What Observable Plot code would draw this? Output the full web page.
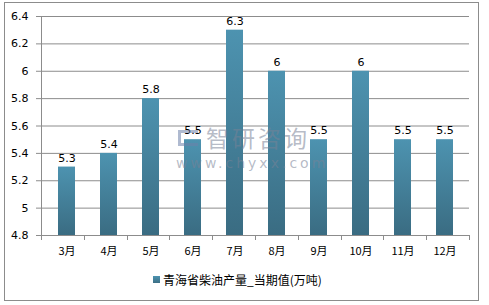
<!DOCTYPE html>
<html>
<head>
<meta charset="utf-8">
<script src="https://cdn.jsdelivr.net/npm/d3@7"></script>
<script src="https://cdn.jsdelivr.net/npm/@observablehq/plot@0.6"></script>
<style>
  html, body { margin: 0; padding: 0; background: #fff; }
  #wrap { position: relative; width: 489px; height: 305px; overflow: hidden; font-family: "DejaVu Sans", "Noto Sans CJK SC", sans-serif; }
  #frame { position: absolute; left: 4px; top: 2px; width: 475px; height: 299px; border: 1px solid #8c8c8c; box-sizing: border-box; }
  #chart { position: absolute; left: 0; top: 0; }
  #legend { position: absolute; left: 153px; top: 271px; font-size: 12px; font-family: "Noto Sans CJK SC", sans-serif; color: #000; display: flex; align-items: center; }
  #legend .sw { width: 7px; height: 7px; background: linear-gradient(#4d93b0, #3c6f85); margin-right: 3px; }
  #wm { position: absolute; left: 176px; top: 125px; color: rgba(120,130,150,0.55); pointer-events: none; }
  #wm .a { font-family: "Noto Sans CJK SC", sans-serif; font-size: 23px; letter-spacing: 3px; margin-left: 30px; line-height: 24px; }
  #wm .b { font-family: "DejaVu Sans", sans-serif; font-size: 14px; letter-spacing: 3px; line-height: 16px; margin-top: 6px; }
  #wm .ic { position: absolute; left: 2px; top: 5px; width: 20px; height: 16px; border: 3px solid rgba(110,130,170,0.55); border-right: none; box-sizing: border-box; }
</style>
</head>
<body>
<div id="wrap">
  <div id="frame"></div>
  <div id="chart"></div>
  <div id="wm"><div class="ic"></div><div class="a">智研咨询</div><div class="b">www.chyxx.com</div></div>
  <div id="legend"><div class="sw"></div><span id="legtext"></span></div>
</div>
<script>
const months = ["3月", "4月", "5月", "6月", "7月", "8月", "9月", "10月", "11月", "12月"];
const values = [5.3, 5.4, 5.8, 5.5, 6.3, 6, 5.5, 6, 5.5, 5.5];
const yTicks = [4.8, 5, 5.2, 5.4, 5.6, 5.8, 6, 6.2, 6.4];
const legendLabel = "青海省柴油产量_当期值(万吨)";

const data = months.map((m, i) => ({month: m, value: values[i]}));
const fmt = d => String(+d.toFixed(1));

const chart = Plot.plot({
  width: 489,
  height: 262,
  marginLeft: 41,
  marginRight: 20,
  marginTop: 16,
  marginBottom: 27,
  style: {fontFamily: "DejaVu Sans, Noto Sans CJK SC, sans-serif", fontSize: "11px", color: "#000", background: "transparent"},
  x: {domain: months, paddingInner: 0.6, paddingOuter: 0.3, label: null},
  y: {domain: [4.8, 6.4], label: null},
  marks: [
    Plot.ruleY(yTicks, {stroke: "#8c8c8c", strokeWidth: 1}),
    Plot.barY(data, {x: "month", y1: 4.8, y2: "value", fill: "url(#barGrad)"}),
    Plot.text(data, {x: "month", y: "value", text: d => fmt(d.value), dy: -9, fill: "#000", fontSize: 11}),
    Plot.axisY(yTicks, {tickSize: 5, tickPadding: 8, tickFormat: fmt, stroke: "#8c8c8c", fill: "#000", label: null}),
    Plot.axisX({tickSize: 0, tickPadding: 12, fill: "#000", label: null, fontFamily: "Noto Sans CJK SC, sans-serif"})
  ]
});

const svg = d3.select(chart);
const defs = svg.insert("defs", ":first-child");
const g = defs.append("linearGradient").attr("id", "barGrad").attr("x1", 0).attr("y1", 0).attr("x2", 0).attr("y2", 1);
g.append("stop").attr("offset", "0%").attr("stop-color", "#4d93b0");
g.append("stop").attr("offset", "100%").attr("stop-color", "#3a6c82");

// axis lines and band-edge tick marks from the scales
const xs = chart.scale("x");
const ys = chart.scale("y");
const [x0, x1] = xs.range;
const yb = ys.apply(4.8), yt = ys.apply(6.4);
const step = (x1 - x0) / months.length;
const extra = svg.append("g").attr("stroke", "#8c8c8c").attr("stroke-width", 1);
extra.append("line").attr("x1", x0 + 0.5).attr("x2", x0 + 0.5).attr("y1", yt).attr("y2", yb);
for (let i = 0; i <= months.length; i++) {
  const x = Math.round(x0 + i * step) + 0.5;
  extra.append("line").attr("x1", x).attr("x2", x).attr("y1", yb).attr("y2", yb + 5);
}

document.getElementById("chart").appendChild(chart);
document.getElementById("legtext").textContent = legendLabel;
</script>
</body>
</html>
